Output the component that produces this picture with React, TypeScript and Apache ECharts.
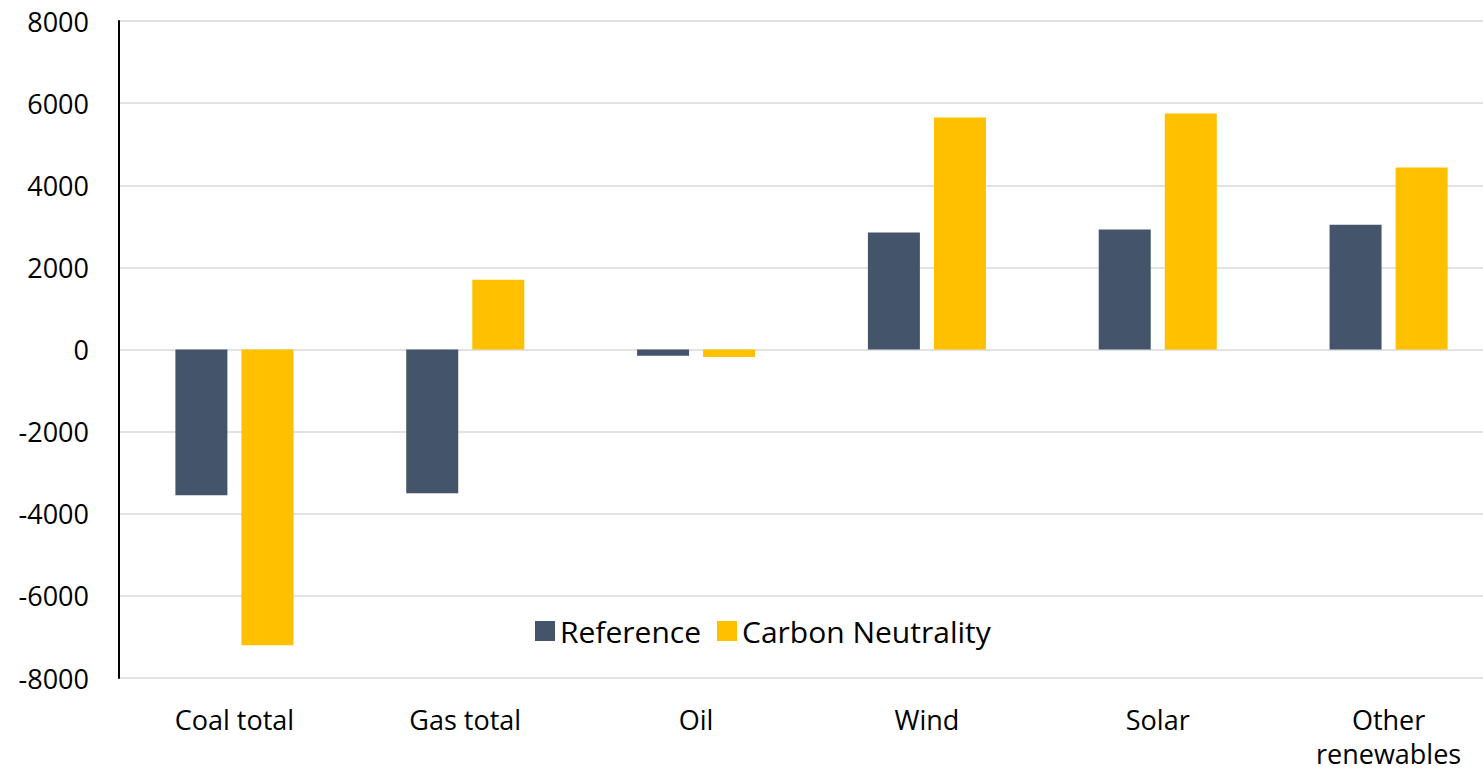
import React, { useEffect, useRef } from "react";
import * as echarts from "echarts";

const categories = ["Coal total", "Gas total", "Oil", "Wind", "Solar", "Other\nrenewables"];
const referenceValues = [-3550, -3500, -150, 2850, 2920, 3040];
const carbonNeutralityValues = [-7200, 1700, -180, 5650, 5750, 4430];
const yTicks = { min: -8000, max: 8000, interval: 2000 };

const FONT = "'Open Sans', sans-serif";

export default function App() {
  const ref = useRef<HTMLDivElement>(null);
  useEffect(() => {
    if (!ref.current) return;
    const chart = echarts.init(ref.current, undefined, { renderer: "svg" });
    chart.setOption({
      animation: false,
      backgroundColor: "#ffffff",
      grid: {
        left: 119,
        top: 21,
        width: 1385,
        height: 657,
        containLabel: false,
        outerBoundsMode: "none",
      },
      legend: {
        left: 530,
        top: 611,
        itemWidth: 20,
        itemHeight: 20,
        itemGap: 16,
        icon: "rect",
        textStyle: { fontFamily: FONT, fontSize: 30, color: "#000000", padding: [0, 0, 0, 0] },
        data: ["Reference", "Carbon Neutrality"],
      },
      xAxis: {
        type: "category",
        data: categories,
        axisLine: { show: false, onZero: false },
        axisTick: { show: false },
        axisLabel: {
          fontFamily: FONT,
          fontSize: 27,
          color: "#000000",
          margin: 24,
          lineHeight: 34,
          interval: 0,
        },
      },
      yAxis: {
        type: "value",
        min: yTicks.min,
        max: yTicks.max,
        interval: yTicks.interval,
        axisLine: { show: true, lineStyle: { color: "#000000", width: 2 } },
        axisTick: { show: false },
        splitLine: { lineStyle: { color: "#D9D9D9", width: 1.5 } },
        axisLabel: {
          fontFamily: FONT,
          fontSize: 27,
          color: "#000000",
          margin: 30,
          formatter: (v: number) => String(v),
        },
      },
      series: [
        {
          name: "Reference",
          type: "bar",
          data: referenceValues,
          barWidth: 52,
          barGap: "27%",
          itemStyle: { color: "#44546A" },
        },
        {
          name: "Carbon Neutrality",
          type: "bar",
          data: carbonNeutralityValues,
          barWidth: 52,
          barGap: "27%",
          itemStyle: { color: "#FFC000" },
        },
      ],
    });
    return () => chart.dispose();
  }, []);
  return (
    <div
      ref={ref}
      style={{ position: "absolute", left: 0, top: 0, width: 1483, height: 772 }}
    />
  );
}
